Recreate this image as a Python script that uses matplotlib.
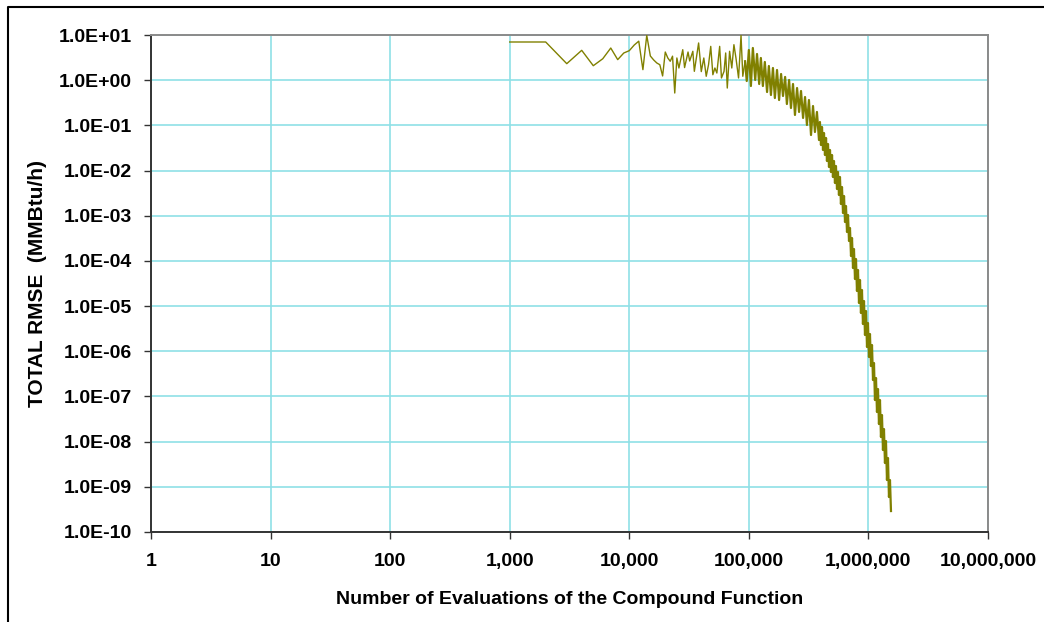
import matplotlib
matplotlib.use('Agg')
import matplotlib.pyplot as plt
from matplotlib.lines import Line2D
from matplotlib.ticker import FixedLocator, NullLocator

# evaluations of the compound function vs. total RMSE (MMBtu/h)
evals = [
    1000, 2000, 3000, 4000, 5000, 6000, 7000, 8000, 9000, 10000,
    11000, 12000, 13000, 14000, 15000, 16000, 17000, 18000, 19000, 20000,
    21000, 22000, 23000, 24000, 25000, 26000, 28000, 29000, 31000, 32000,
    34000, 35000, 38000, 40000, 42000, 44000, 46000, 48000, 50000, 52000,
    54000, 57000, 59000, 62000, 64000, 66000, 69000, 72000, 75000, 78000,
    82000, 86000, 89000, 93000,
    96000, 100000, 104000, 108000, 113000, 117000, 122000, 126000, 131000, 136000,
    142000, 147000, 153000, 159000, 165000, 172000, 179000, 186000, 193000, 201000,
    208000, 217000, 225000, 234000, 243000, 253000, 263000, 273000, 284000, 295000,
    306000, 318000, 331000, 344000, 357000, 371000, 386000,
    393000, 401000, 409000, 417000, 425000, 433000, 442000, 450000, 459000, 468000,
    477000, 486000, 496000, 505000, 515000, 525000, 535000, 546000, 556000, 567000,
    578000, 589000, 601000, 613000, 625000, 637000, 649000, 662000, 675000, 688000,
    701000, 715000, 729000, 743000, 757000, 772000, 787000, 802000, 818000, 834000,
    850000, 866000, 883000, 900000, 918000, 936000, 954000, 973000, 991000, 1011000,
    1030000, 1050000, 1071000, 1092000, 1113000, 1134000, 1157000, 1179000, 1202000, 1225000,
    1249000, 1273000, 1298000, 1323000, 1349000, 1375000, 1402000, 1429000, 1457000, 1485000,
    1514000, 1544000,
]
rmse = [
    7.0, 7.0, 2.32, 4.58, 2.09, 2.98, 5.15, 2.85, 4.0, 4.5,
    6.0, 7.3, 1.71, 9.8, 3.43, 2.8, 2.4, 2.2, 1.24, 4.2,
    3.1, 2.62, 3.4, 0.52, 3.1, 1.86, 4.73, 1.9, 4.2, 2.66,
    4.36, 1.57, 6.66, 1.55, 3.1, 1.22, 2.2, 5.6, 1.32, 1.86,
    1.44, 5.6, 1.12, 1.57, 4.0, 0.67, 4.36, 1.86, 6.1, 3.1,
    1.12, 9.8, 1.22, 2.62,
    0.959, 4.66, 0.743, 5.16, 1.01, 3.80, 0.823, 3.10, 0.743, 2.53,
    0.547, 2.06, 0.470, 1.86, 0.403, 1.68, 0.364, 1.37, 0.447, 1.18,
    0.297, 1.01, 0.242, 0.823, 0.170, 0.671, 0.198, 0.576, 0.146, 0.424,
    0.102, 0.364, 0.0612, 0.268, 0.0713, 0.198, 0.0474,
    0.1187, 0.03675, 0.0920, 0.02849, 0.06774, 0.02207, 0.05252, 0.01626, 0.03868, 0.01198,
    0.02849, 0.009281, 0.02207, 0.007194, 0.01626, 0.0053, 0.0126, 0.003904, 0.009281, 0.002874,
    0.007194, 0.001817, 0.004321, 0.001148, 0.002731, 7.26e-4, 0.001641, 4.36e-4, 0.001037, 2.757e-4,
    5.35e-4, 1.283e-4, 3.21e-4, 6.96e-5, 1.834e-4, 3.97e-5, 1.101e-4, 2.157e-5, 6.29e-5, 1.17e-5,
    3.78e-5, 7.03e-6, 2.268e-5, 4.01e-6, 1.295e-5, 2.29e-6, 7.78e-6, 1.242e-6, 4.22e-6, 7.46e-7,
    2.41e-6, 4.71e-7, 1.375e-6, 2.31e-7, 5.5e-7, 8.33e-8, 2.56e-7, 4.52e-8, 1.46e-7, 2.45e-8,
    8.33e-8, 1.264e-8, 3.88e-8, 6.52e-9, 1.9e-8, 3.36e-9, 1.032e-8, 1.413e-9, 4.34e-9, 5.94e-10,
    1.413e-9, 2.91e-10,
]

x_ticks = [1, 10, 100, 1000, 10000, 100000, 1000000, 10000000]
x_labels = ['1', '10', '100', '1,000', '10,000', '100,000', '1,000,000', '10,000,000']
y_ticks = [1e1, 1e0, 1e-1, 1e-2, 1e-3, 1e-4, 1e-5, 1e-6, 1e-7, 1e-8, 1e-9, 1e-10]
y_labels = ['1.0E+01', '1.0E+00', '1.0E-01', '1.0E-02', '1.0E-03', '1.0E-04',
            '1.0E-05', '1.0E-06', '1.0E-07', '1.0E-08', '1.0E-09', '1.0E-10']

plt.rcParams['font.family'] = ['Liberation Sans', 'DejaVu Sans']

fig = plt.figure(figsize=(10.44, 6.22), dpi=100)
ax = fig.add_axes([151 / 1044, 1 - 532 / 622, (988 - 151) / 1044, (532 - 35) / 622])

# sparse early part thin, dense noisy tail drawn a bit heavier (it is a solid band in the original)
split = evals.index(93000)
ax.plot(evals[:split + 1], rmse[:split + 1], color='#808000', linewidth=1.0, zorder=3)
ax.plot(evals[split:], rmse[split:], color='#808000', linewidth=1.6, zorder=3)

ax.set_xscale('log')
ax.set_yscale('log')
ax.set_xlim(1, 1e7)
ax.set_ylim(1e-10, 1e1)

ax.xaxis.set_major_locator(FixedLocator(x_ticks))
ax.xaxis.set_minor_locator(NullLocator())
ax.yaxis.set_major_locator(FixedLocator(y_ticks))
ax.yaxis.set_minor_locator(NullLocator())
ax.set_xticklabels(x_labels, fontsize=14, fontweight='bold')
ax.set_yticklabels(y_labels, fontsize=14, fontweight='bold')
ax.tick_params(axis='both', direction='out', length=5, width=1, color='#333333')
ax.tick_params(axis='x', pad=10)
ax.tick_params(axis='y', pad=9)

ax.grid(True, color='#8fe0e6', linewidth=1.2)
ax.set_axisbelow(True)

for side in ['left', 'bottom']:
    ax.spines[side].set_color('#333333')
    ax.spines[side].set_linewidth(1.4)
for side in ['top', 'right']:
    ax.spines[side].set_color('#8a8a8a')
    ax.spines[side].set_linewidth(1.4)

ax.set_xlabel('Number of Evaluations of the Compound Function', fontsize=14,
              fontweight='bold', labelpad=15)
ax.set_ylabel('TOTAL RMSE  (MMBtu/h)', fontsize=15, fontweight='bold', labelpad=8)

# outer chart-area border (left and top edges visible)
fig.add_artist(Line2D([8 / 1044, 8 / 1044, 1.0], [0.0, 1 - 7 / 622, 1 - 7 / 622],
                      transform=fig.transFigure, color='black', linewidth=1.5))

fig.savefig('out.png', dpi=100)
